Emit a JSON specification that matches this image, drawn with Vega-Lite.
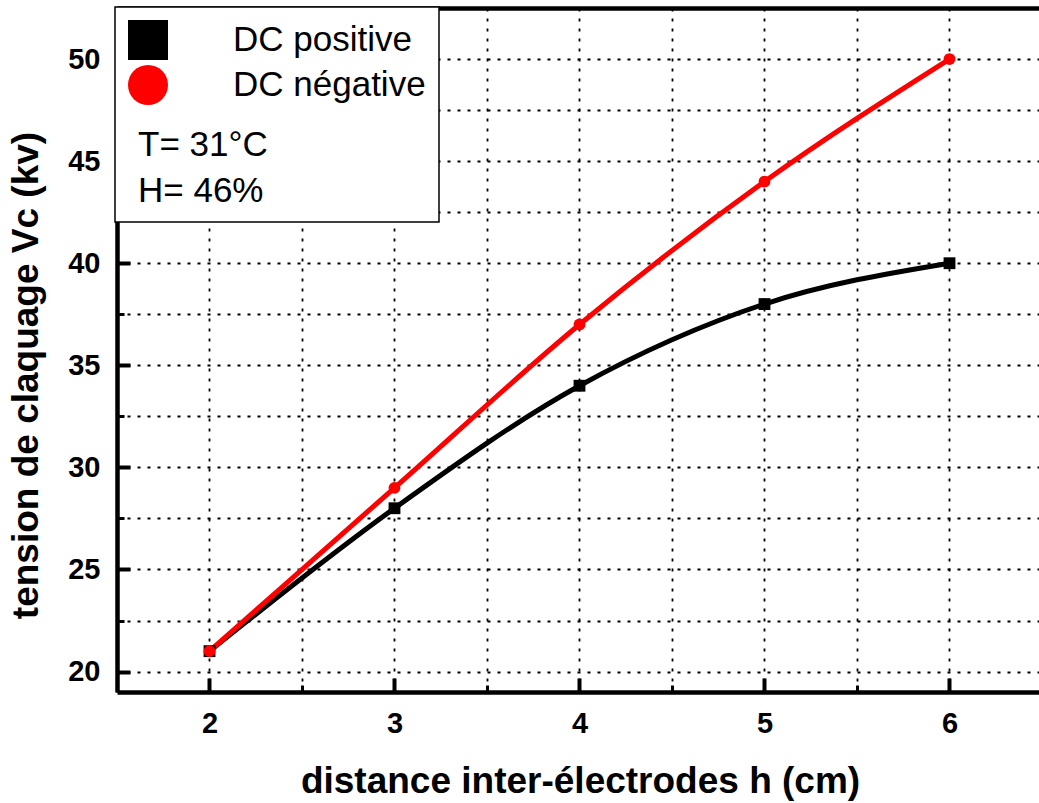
{
  "$schema": "https://vega.github.io/schema/vega-lite/v6.json",
  "width": 922,
  "height": 684,
  "autosize": {"type": "none"},
  "padding": {"left": 117, "top": 8, "right": 0, "bottom": 111},
  "background": "white",
  "config": {"view": {"stroke": null}, "font": "Liberation Sans"},
  "data": {
    "values": [
      {"h": 2, "v": 21, "series": "DC positive"},
      {"h": 3, "v": 28, "series": "DC positive"},
      {"h": 4, "v": 34, "series": "DC positive"},
      {"h": 5, "v": 38, "series": "DC positive"},
      {"h": 6, "v": 40, "series": "DC positive"},
      {"h": 2, "v": 21, "series": "DC négative"},
      {"h": 3, "v": 29, "series": "DC négative"},
      {"h": 4, "v": 37, "series": "DC négative"},
      {"h": 5, "v": 44, "series": "DC négative"},
      {"h": 6, "v": 50, "series": "DC négative"}
    ]
  },
  "layer": [
    {
      "mark": {"type": "line", "interpolate": "monotone", "strokeWidth": 5},
      "encoding": {
        "x": {
          "field": "h", "type": "quantitative",
          "scale": {"domain": [1.5, 6.4838], "nice": false, "zero": false},
          "axis": {
            "orient": "bottom", "values": [2, 3, 4, 5, 6], "format": "d",
            "grid": false, "domain": true, "domainColor": "black", "domainWidth": 4.5,
            "ticks": true, "tickSize": -14, "tickWidth": 4, "tickColor": "black",
            "labels": true, "labelFont": "Liberation Sans", "labelFontWeight": "bold", "labelFontSize": 29,
            "labelColor": "black", "labelPadding": 31, "labelFlush": false, "labelOverlap": false,
            "title": "distance inter-électrodes h (cm)", "titleFont": "Liberation Sans", "titleFontSize": 37,
            "titleFontWeight": "bold", "titleColor": "black", "titleBaseline": "alphabetic",
            "titleAlign": "center", "titleX": 463, "titleY": 100
          }
        },
        "y": {
          "field": "v", "type": "quantitative",
          "scale": {"domain": [19, 52.5], "nice": false, "zero": false},
          "axis": {
            "orient": "left", "values": [20, 25, 30, 35, 40, 45, 50], "format": "d",
            "grid": false, "domain": true, "domainColor": "black", "domainWidth": 4.5,
            "ticks": true, "tickSize": -13, "tickWidth": 4, "tickColor": "black",
            "labels": true, "labelFont": "Liberation Sans", "labelFontWeight": "bold", "labelFontSize": 29,
            "labelColor": "black", "labelPadding": 30, "labelFlush": false, "labelOverlap": false,
            "title": "tension de claquage Vc (kv)", "titleFont": "Liberation Sans", "titleFontSize": 37,
            "titleFontWeight": "bold", "titleColor": "black", "titleAngle": 270, "titleBaseline": "alphabetic",
            "titleAlign": "center", "titleX": -80, "titleY": 367
          }
        },
        "color": {
          "field": "series", "type": "nominal",
          "scale": {"domain": ["DC positive", "DC négative"], "range": ["#000000", "#ff0000"]},
          "legend": {
            "orient": "none", "legendX": -2, "legendY": -1,
            "padding": 13, "fillColor": "white", "strokeColor": "black", "cornerRadius": 0,
            "rowPadding": 5, "labelOffset": 65, "labelLimit": 400,
            "labelFont": "Liberation Sans", "labelFontSize": 35, "labelColor": "black",
            "symbolSize": 1600, "symbolStrokeWidth": 0,
            "title": ["T= 31°C", "H= 46%"], "titleOrient": "bottom", "titleAnchor": "start",
            "titleFont": "Liberation Sans", "titleFontSize": 35, "titleFontWeight": "normal", "titleColor": "black",
            "titleLineHeight": 46, "titlePadding": 23, "titleBaseline": "top", "titleLimit": 400,
            "encode": {
              "symbols": {"update": {
                "shape": {"signal": "datum.value === 'DC positive' ? 'M-0.55,-0.1H3.7V0.1H-0.55Z M1.325,-0.25H1.825V0.25H1.325Z' : 'M-0.55,-0.1H3.7V0.1H-0.55Z M1.875,0A0.3,0.3 0 1,1 1.275,0A0.3,0.3 0 1,1 1.875,0Z'"},
                "size": {"value": 1600},
                "strokeWidth": {"value": 0},
                "fill": {"signal": "datum.value === 'DC positive' ? '#000000' : '#ff0000'"}
              }},
              "legend": {"update": {"strokeWidth": {"value": 1.5}}},
              "title": {"update": {"dx": {"value": 10}}}
            }
          }
        }
      }
    },
    {
      "mark": {"type": "point", "filled": true, "opacity": 1, "size": 140},
      "encoding": {
        "x": {
          "field": "h", "type": "quantitative",
          "axis": {
            "orient": "bottom", "values": [1.5, 2, 2.5, 3, 3.5, 4, 4.5, 5, 5.5, 6],
            "grid": true, "gridDash": [3, 7], "gridColor": "black", "gridWidth": 1.8, "gridOpacity": 1,
            "domain": false, "ticks": true, "tickSize": -7, "tickWidth": 3, "tickColor": "black",
            "labels": false, "title": null
          }
        },
        "y": {
          "field": "v", "type": "quantitative",
          "axis": {
            "orient": "left", "values": [20, 22.5, 25, 27.5, 30, 32.5, 35, 37.5, 40, 42.5, 45, 47.5, 50, 52.5],
            "grid": true, "gridDash": [3, 7], "gridColor": "black", "gridWidth": 1.8, "gridOpacity": 1,
            "domain": false, "ticks": true, "tickSize": -7, "tickWidth": 3, "tickColor": "black",
            "labels": false, "title": null
          }
        },
        "color": {
          "field": "series", "type": "nominal",
          "legend": {
            "orient": "none", "legendX": -2, "legendY": -1,
            "padding": 13, "fillColor": "white", "strokeColor": "black", "cornerRadius": 0,
            "rowPadding": 5, "labelOffset": 65, "labelLimit": 400,
            "labelFont": "Liberation Sans", "labelFontSize": 35, "labelColor": "black",
            "symbolSize": 1600, "symbolStrokeWidth": 0,
            "title": ["T= 31°C", "H= 46%"], "titleOrient": "bottom", "titleAnchor": "start",
            "titleFont": "Liberation Sans", "titleFontSize": 35, "titleFontWeight": "normal", "titleColor": "black",
            "titleLineHeight": 46, "titlePadding": 23, "titleBaseline": "top", "titleLimit": 400,
            "encode": {
              "symbols": {"update": {
                "shape": {"signal": "datum.value === 'DC positive' ? 'M-0.55,-0.1H3.7V0.1H-0.55Z M1.325,-0.25H1.825V0.25H1.325Z' : 'M-0.55,-0.1H3.7V0.1H-0.55Z M1.875,0A0.3,0.3 0 1,1 1.275,0A0.3,0.3 0 1,1 1.875,0Z'"},
                "size": {"value": 1600},
                "strokeWidth": {"value": 0},
                "fill": {"signal": "datum.value === 'DC positive' ? '#000000' : '#ff0000'"}
              }},
              "legend": {"update": {"strokeWidth": {"value": 1.5}}},
              "title": {"update": {"dx": {"value": 10}}}
            }
          }
        },
        "shape": {
          "field": "series", "type": "nominal",
          "scale": {"domain": ["DC positive", "DC négative"], "range": ["square", "circle"]},
          "legend": null
        }
      }
    },
    {
      "mark": {"type": "point", "opacity": 0},
      "encoding": {
        "x": {
          "field": "h", "type": "quantitative",
          "axis": {
            "orient": "top", "values": [], "grid": false, "domain": true, "domainColor": "black",
            "domainWidth": 4.5, "ticks": false, "labels": false, "title": null
          }
        },
        "y": {"field": "v", "type": "quantitative", "axis": null}
      }
    }
  ],
  "resolve": {"axis": {"x": "independent", "y": "independent"}}
}
